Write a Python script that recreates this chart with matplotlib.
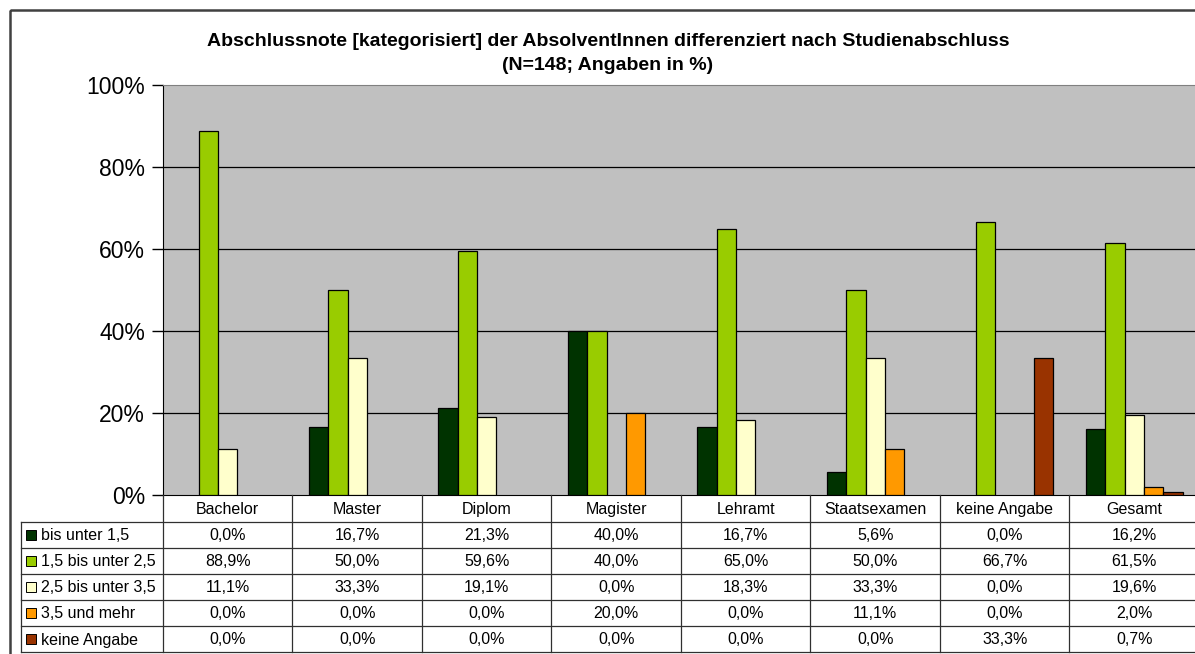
import numpy as np
import matplotlib.pyplot as plt
from matplotlib.patches import Rectangle

plt.rcParams['font.family'] = ['Liberation Sans', 'DejaVu Sans']

categories = ["Bachelor", "Master", "Diplom", "Magister", "Lehramt",
              "Staatsexamen", "keine Angabe", "Gesamt"]
series_names = ["bis unter 1,5", "1,5 bis unter 2,5", "2,5 bis unter 3,5",
                "3,5 und mehr", "keine Angabe"]
bis_unter_15 = [0.0, 16.7, 21.3, 40.0, 16.7, 5.6, 0.0, 16.2]
von_15_bis_25 = [88.9, 50.0, 59.6, 40.0, 65.0, 50.0, 66.7, 61.5]
von_25_bis_35 = [11.1, 33.3, 19.1, 0.0, 18.3, 33.3, 0.0, 19.6]
ab_35 = [0.0, 0.0, 0.0, 20.0, 0.0, 11.1, 0.0, 2.0]
keine_angabe = [0.0, 0.0, 0.0, 0.0, 0.0, 0.0, 33.3, 0.7]
yticks = [0, 20, 40, 60, 80, 100]

series = [bis_unter_15, von_15_bis_25, von_25_bis_35, ab_35, keine_angabe]
colors = ["#003300", "#99CC00", "#FFFFCC", "#FF9900", "#993300"]

W, H = 1195, 654
fig = plt.figure(figsize=(W / 100, H / 100), dpi=100)

# pixel layout
left, top, bottom = 163, 85, 495
colw = 129.5
ncat = len(categories)
ax = fig.add_axes([left / W, 1 - bottom / H, ncat * colw / W, (bottom - top) / H])
ax.set_facecolor("#C0C0C0")

x = np.arange(ncat)
bw = 0.15
for i, (vals, c) in enumerate(zip(series, colors)):
    v = np.array(vals)
    m = v > 0
    ax.bar(x[m] + (i - 2) * bw, v[m], width=bw, color=c, edgecolor="black",
           linewidth=0.9, zorder=3)

ax.set_xlim(-0.5, ncat - 0.5)
ax.set_ylim(0, 100)
ax.set_yticks(yticks)
ax.set_yticklabels([f"{t}%" for t in yticks], fontsize=16.5)
ax.set_xticks([])
ax.tick_params(axis="y", length=8, width=1, pad=5)
for t in yticks[1:-1]:
    ax.axhline(t, color="black", lw=0.9, zorder=1)
ax.spines["right"].set_visible(False)
ax.spines["top"].set_color("#808080")
ax.spines["left"].set_color("black")
ax.spines["bottom"].set_color("black")

# overlay in pixel coordinates for frame, title and table
ov = fig.add_axes([0, 0, 1, 1], zorder=-1)
ov.set_xlim(0, W)
ov.set_ylim(H, 0)
ov.axis("off")
ov2 = fig.add_axes([0, 0, 1, 1], zorder=5)
ov2.set_xlim(0, W)
ov2.set_ylim(H, 0)
ov2.axis("off")
ov2.patch.set_alpha(0)

ov.add_patch(Rectangle((10, 10), W + 20, H + 20, fill=False,
                       edgecolor="#404040", lw=1.8))

ov2.text(608, 42, "Abschlussnote [kategorisiert] der AbsolventInnen differenziert nach Studienabschluss",
         ha="center", va="center", fontsize=14, fontweight="bold")
ov2.text(608, 65, "(N=148; Angaben in %)", ha="center", va="center",
         fontsize=14, fontweight="bold")

# table
rowh = 26
hdr_bot = 522
tl = 21
fs = 11.5
col_edges = [left + k * colw for k in range(ncat + 1)]
lc = "#303030"
for k in range(ncat + 1):
    ov2.plot([col_edges[k]] * 2, [bottom, hdr_bot + rowh * len(series)], color=lc, lw=0.9)
for k, cat in enumerate(categories):
    ov2.text(left + (k + 0.5) * colw, (bottom + hdr_bot) / 2 + 1, cat,
             ha="center", va="center", fontsize=fs)
for r in range(len(series) + 1):
    y = hdr_bot + r * rowh
    ov2.plot([tl, col_edges[-1]], [y, y], color=lc, lw=0.9)
ov2.plot([tl, tl], [hdr_bot, hdr_bot + rowh * len(series)], color=lc, lw=0.9)
for r, (name, vals, c) in enumerate(zip(series_names, series, colors)):
    yc = hdr_bot + (r + 0.5) * rowh
    ov2.add_patch(Rectangle((26, yc - 5), 10, 10, facecolor=c, edgecolor="black", lw=0.7))
    ov2.text(41, yc + 1, name, ha="left", va="center", fontsize=fs)
    for k, v in enumerate(vals):
        ov2.text(left + (k + 0.5) * colw, yc + 1, f"{v:.1f}%".replace(".", ","),
                 ha="center", va="center", fontsize=fs)

fig.savefig("out.png", dpi=100)
